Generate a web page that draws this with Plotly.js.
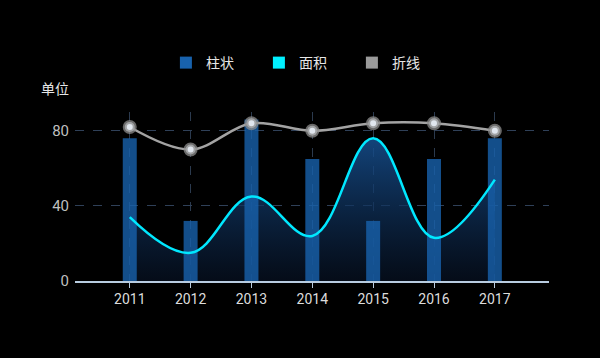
<!DOCTYPE html>
<html>
<head>
<meta charset="utf-8">
<script src="https://cdn.plot.ly/plotly-3.0.1.min.js"></script>
<style>html,body{margin:0;padding:0;background:#000;}#chart{width:600px;height:358px;}</style>
</head>
<body>
<div id="chart"></div>
<script>
var years = ['2011','2012','2013','2014','2015','2016','2017'];
var barValues = [76, 32, 86, 65, 32, 65, 76];
var areaValues = [34, 15, 45, 24, 76, 23, 54];
var lineValues = [82, 70, 84, 80, 84, 84, 80];
var seriesNames = ['柱状', '面积', '折线'];
var yTicks = [0, 40, 80];

var cjk = '"Noto Sans CJK SC", "Noto Sans", sans-serif';

var traces = [
  {
    type: 'scatter', mode: 'lines', x: years, y: areaValues, name: seriesNames[1],
    showlegend: false, xaxis: 'x', yaxis: 'y',
    line: {color: 'rgba(0,0,0,0)', width: 0, shape: 'spline', smoothing: 1.1},
    fill: 'tozeroy',
    fillgradient: {type: 'vertical', colorscale: [[0, 'rgba(8,20,40,0.6)'], [1, 'rgba(22,80,145,0.85)']]},
    hoverinfo: 'skip'
  },
  {
    type: 'bar', x: years, y: barValues, name: seriesNames[0], legendrank: 1,
    xaxis: 'x', yaxis: 'y2',
    width: 0.23,
    marker: {color: '#1862ad', opacity: 0.8, line: {width: 0}},
    hoverinfo: 'skip'
  },
  {
    type: 'scatter', mode: 'lines', x: years, y: areaValues, name: seriesNames[1],
    showlegend: false, xaxis: 'x', yaxis: 'y2',
    line: {color: '#00e8ff', width: 2.5, shape: 'spline', smoothing: 1.1},
    hoverinfo: 'skip'
  },
  {
    type: 'scatter', mode: 'lines+markers', x: years, y: lineValues, name: seriesNames[2],
    showlegend: false, xaxis: 'x', yaxis: 'y2',
    line: {color: '#a3a3a3', width: 2.5, shape: 'spline', smoothing: 1},
    marker: {size: 10, color: '#e0e6ee', line: {color: 'rgba(140,140,140,0.75)', width: 4}},
    hoverinfo: 'skip'
  },
  {type: 'bar', x: [null], y: [null], name: seriesNames[1], legendrank: 2, marker: {color: '#00f0ff'}},
  {type: 'bar', x: [null], y: [null], name: seriesNames[2], legendrank: 3, marker: {color: '#9a9a9a'}}
];

var layout = {
  width: 600, height: 358,
  paper_bgcolor: '#000', plot_bgcolor: '#000',
  margin: {l: 75, r: 51, t: 112, b: 77},
  barmode: 'overlay',
  showlegend: true,
  legend: {
    orientation: 'h', x: 0.509, xanchor: 'center', y: 0.824, yanchor: 'middle',
    xref: 'container', yref: 'container',
    font: {family: cjk, size: 14, color: '#e6e6e6'},
    entrywidth: 48, entrywidthmode: 'pixels',
    traceorder: 'normal'
  },
  xaxis: {
    type: 'category', range: [-0.9, 6.89],
    showgrid: true, gridcolor: '#2b3a4e', griddash: 'dash', gridwidth: 1,
    showline: true, linecolor: '#b8cce0', linewidth: 1.5,
    ticks: 'outside', ticklen: 5, tickcolor: '#b8cce0',
    tickfont: {family: 'Roboto, "Noto Sans", sans-serif', size: 14, color: '#dcdcdc'},
    zeroline: false, fixedrange: true
  },
  yaxis: {
    range: [0, 90], tickvals: yTicks,
    showgrid: true, gridcolor: '#2f4058', griddash: 'dash', gridwidth: 1,
    showline: false, zeroline: false, ticks: '',
    tickfont: {family: 'Roboto, "Noto Sans", sans-serif', size: 15, color: '#bfbfbf'},
    ticklabelstandoff: 5, fixedrange: true
  },
  yaxis2: {
    overlaying: 'y', range: [0, 90], showgrid: false, showticklabels: false,
    showline: false, zeroline: false, ticks: '', fixedrange: true
  },
  annotations: [{
    text: '单位', xref: 'paper', yref: 'paper', x: -0.075, y: 1.07,
    xanchor: 'left', yanchor: 'bottom', showarrow: false,
    font: {family: cjk, size: 14, color: '#e6e6e6'}
  }]
};

Plotly.newPlot('chart', traces, layout, {displayModeBar: false, staticPlot: true});
</script>
</body>
</html>
